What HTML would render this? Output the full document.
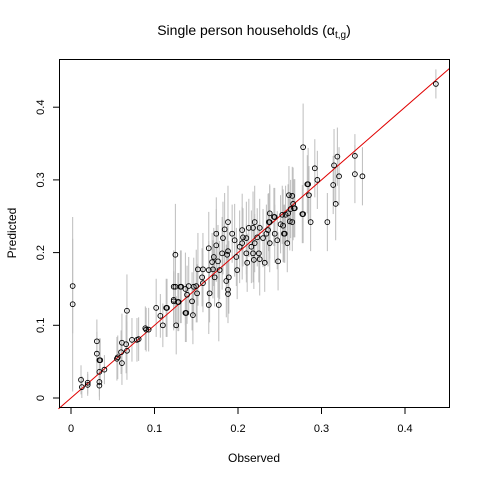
<!DOCTYPE html>
<html><head><meta charset="utf-8"><style>
html,body{margin:0;padding:0;background:#fff;}
svg{display:block;font-family:"Liberation Sans",Arial,sans-serif;}
</style></head><body>
<svg id="chart" width="480" height="480">
<rect width="480" height="480" fill="#fff"/>
<text x="254" y="35" text-anchor="middle" font-size="14">Single person households (α<tspan font-size="10" dy="3">t,g</tspan><tspan dy="-3">)</tspan></text>
<text x="254" y="462" text-anchor="middle" font-size="12">Observed</text>
<text x="16" y="233" text-anchor="middle" font-size="12" transform="rotate(-90 16 233)">Predicted</text>
<g id="errs"></g><g id="pts"></g><g id="axes"></g>
<rect x="59.5" y="59.5" width="390" height="348" fill="none" stroke="#000"/>
</svg>
<script>
const xTicks=[0,0.1,0.2,0.3,0.4];
const yTicks=[0,0.1,0.2,0.3,0.4];
const observed=[0.002,0.002,0.012,0.013,0.020,0.020,0.031,0.031,0.034,0.035,0.034,0.034,0.034,0.040,0.055,0.056,0.060,0.061,0.066,0.061,0.067,0.067,0.073,0.079,0.081,0.089,0.090,0.093,0.102,0.107,0.110,0.114,0.125,0.125,0.126,0.123,0.128,0.131,0.137,
0.123,0.123,0.132,0.129,0.137,0.141,0.147,0.150,0.139,0.145,0.138,0.146,0.115,0.152,0.158,0.157,0.158,0.151,0.165,0.177,0.166,0.165,0.174,0.174,0.171,0.169,0.176,0.170,0.172,0.181,0.182,0.184,0.188,0.193,0.188,0.187,0.178,0.189,0.186,0.188,0.188,0.196,0.198,0.199,0.202,0.205,0.206,0.210,0.205,0.210,0.211,0.213,0.218,0.220,0.226,0.223,0.220,0.216,0.218,0.225,0.219,0.226,0.232,0.230,0.234,0.236,0.238,0.238,0.244,0.244,0.238,0.247,0.248,0.254,0.253,0.256,0.259,0.260,0.263,0.268,0.265,0.266,0.261,0.265,0.278,0.284,0.165,
0.437,0.278,0.292,0.319,0.315,0.340,0.340,0.349,0.321,0.295,0.283,0.314,0.285,0.317,0.267,0.277,0.287,0.307,0.257,0.262,0.251,0.243,0.237,0.255];
const predicted=[0.154,0.129,0.025,0.015,0.021,0.018,0.078,0.061,0.052,0.052,0.036,0.022,0.017,0.039,0.054,0.056,0.063,0.076,0.074,0.048,0.120,0.065,0.080,0.080,0.081,0.096,0.094,0.094,0.124,0.113,0.100,0.124,0.197,0.153,0.100,0.135,0.132,0.153,0.117,
0.153,0.133,0.153,0.132,0.150,0.154,0.153,0.154,0.142,0.133,0.117,0.114,0.124,0.177,0.177,0.166,0.158,0.144,0.128,0.128,0.144,0.206,0.226,0.210,0.194,0.187,0.188,0.177,0.166,0.199,0.220,0.232,0.242,0.226,0.202,0.197,0.176,0.166,0.161,0.149,0.143,0.217,0.194,0.176,0.208,0.213,0.221,0.220,0.231,0.199,0.186,0.234,0.234,0.242,0.234,0.221,0.213,0.208,0.199,0.199,0.190,0.191,0.186,0.220,0.226,0.231,0.242,0.254,0.249,0.226,0.213,0.217,0.188,0.237,0.252,0.226,0.213,0.254,0.260,0.261,0.242,0.267,0.279,0.278,0.253,0.294,0.176,
0.432,0.345,0.316,0.332,0.320,0.333,0.308,0.305,0.305,0.300,0.294,0.293,0.279,0.267,0.261,0.253,0.242,0.242,0.252,0.243,0.239,0.249,0.242,0.226];
const errors=[0.065,0.12,0.02,0.015,0.015,0.015,0.03,0.03,0.03,0.03,0.02,0.02,0.02,0.02,0.03,0.03,0.03,0.04,0.04,0.03,0.05,0.04,0.03,0.03,0.03,0.03,0.03,0.03,0.04,0.03,0.03,0.04,0.07,0.05,0.04,0.04,0.04,0.05,0.04,
0.05,0.04,0.05,0.04,0.05,0.04,0.04,0.05,0.04,0.04,0.04,0.04,0.04,0.05,0.05,0.04,0.04,0.04,0.04,0.05,0.04,0.05,0.05,0.05,0.04,0.04,0.05,0.04,0.04,0.05,0.05,0.05,0.05,0.04,0.05,0.04,0.04,0.05,0.05,0.04,0.04,0.05,0.04,0.04,0.05,0.05,0.04,0.05,0.05,0.04,0.04,0.04,0.05,0.05,0.04,0.04,0.04,0.05,0.04,0.04,0.04,0.05,0.04,0.04,0.04,0.05,0.05,0.04,0.04,0.04,0.04,0.04,0.04,0.05,0.04,0.04,0.04,0.04,0.04,0.04,0.04,0.05,0.04,0.04,0.04,0.05,0.04,
0.02,0.06,0.04,0.04,0.05,0.03,0.04,0.04,0.04,0.04,0.04,0.04,0.04,0.05,0.04,0.04,0.04,0.04,0.04,0.04,0.04,0.04,0.04,0.04];
const X0=71,XS=835,Y0=398,YS=727;
function sx(v){return X0+v*XS;}
function sy(v){return Y0-v*YS;}
const NS='http://www.w3.org/2000/svg';
function mk(tag,attrs,parent){const e=document.createElementNS(NS,tag);for(const k in attrs)e.setAttribute(k,attrs[k]);parent.appendChild(e);return e;}
const eg=document.getElementById('errs'),pg=document.getElementById('pts'),ag=document.getElementById('axes');
observed.forEach((o,i)=>{const p=predicted[i];const er=errors[i]||0.03;
const l=mk('line',{x1:sx(o),x2:sx(o),y1:sy(p-er),y2:sy(p+er),stroke:'#bdbdbd','stroke-width':1},eg);


});
const ref=mk('line',{x1:sx(-0.015),y1:sy(-0.015),x2:sx(0.453),y2:sy(0.453),stroke:'#e00000','stroke-width':1},eg);


observed.forEach((o,i)=>{
const c=mk('circle',{cx:sx(o),cy:sy(predicted[i]),r:2.4,fill:'none',stroke:'#000','stroke-width':0.9},pg);


});
mk('line',{x1:sx(0),x2:sx(0.4),y1:407.5,y2:407.5,stroke:'#000'},ag);
xTicks.forEach(t=>{mk('line',{x1:sx(t),x2:sx(t),y1:407.5,y2:414,stroke:'#000'},ag);
const tx=mk('text',{x:sx(t),y:432,'text-anchor':'middle','font-size':11},ag);tx.textContent=String(t);


});
mk('line',{x1:59.5,x2:59.5,y1:sy(0),y2:sy(0.4),stroke:'#000'},ag);
yTicks.forEach(t=>{mk('line',{x1:53,x2:59.5,y1:sy(t),y2:sy(t),stroke:'#000'},ag);
const tx=mk('text',{x:44,y:sy(t),'text-anchor':'middle','font-size':11,transform:`rotate(-90 44 ${sy(t)})`},ag);tx.textContent=String(t);


});
</script>
</body></html>
